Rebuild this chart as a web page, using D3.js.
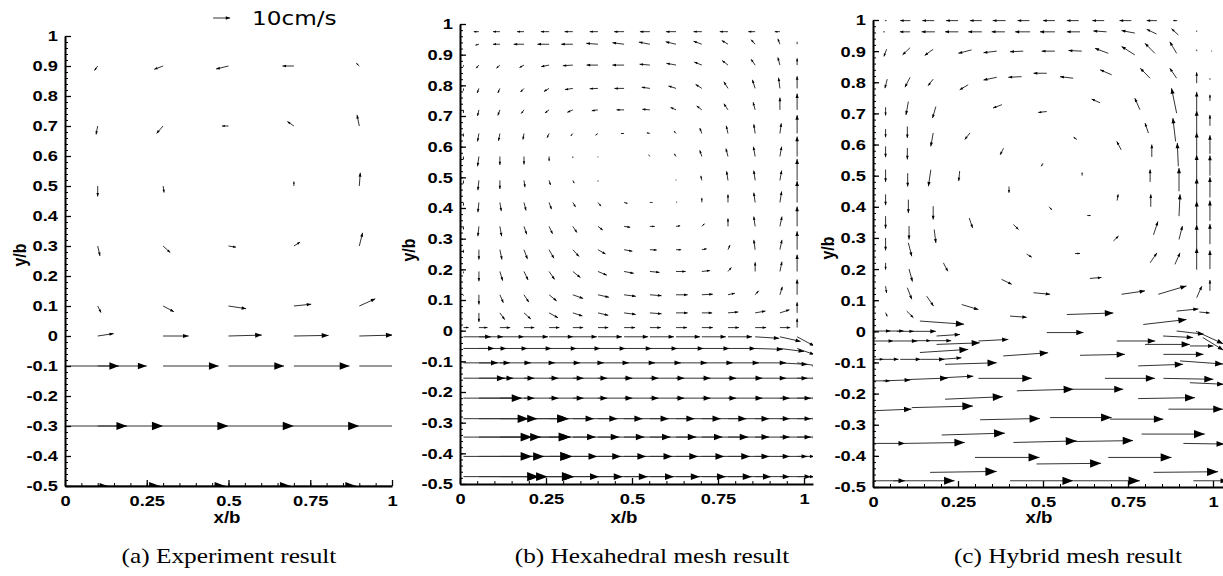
<!DOCTYPE html>
<meta charset="utf-8">
<style>
  body { margin: 0; background: #fff; }
  .ax-title { font: bold 16px "Liberation Sans", Arial, sans-serif; fill: #000; }
  .caption { font: 22px "Liberation Serif", "Times New Roman", serif; fill: #000; }
  .legend-lbl { font: 19px "DejaVu Sans", sans-serif; fill: #000; }
</style>
<script src="https://d3js.org/d3.v7.min.js"></script>
<div id="chart"></div>
<script>
  // vector components are in hundredths of b (legend arrow 5.2 = 10 cm/s)

  // (a) experiment: regular PIV grid
  var aCols = [0, 0.1, 0.3, 0.5, 0.7, 0.9];
  var aRows = [0.9, 0.7, 0.5, 0.3, 0.1, 0, -0.1, -0.3, -0.5];
  var aU = [
    [0, -1, -2.7, -3.8, -3.5, -0.9],
    [0, -0.5, -2, -2, -2, -0.7],
    [0, 0, 0.3, 0.2, 0, 0.3],
    [0, 0.7, 2.2, 2.3, 1.9, 1],
    [0, 1, 3.3, 5.4, 5.3, 4.9],
    [0, 4.9, 7.8, 10.2, 10.6, 10.2],
    [16.5, 15, 17, 17, 17, 17],
    [19, 20, 20, 20, 20, 20],
    [13, 19, 19, 19, 19, 19]
  ];
  var aV = [
    [0, -1.5, -1.1, -1, 0, 0.9],
    [0, -2.8, -2.5, 0, 1.5, 3.7],
    [0, -3.5, -2.2, 0, 1.5, 4.4],
    [0, -3.3, -2.2, -0.4, 1.3, 4.4],
    [0, -2.2, -1.9, -0.9, 0.6, 2.4],
    [0, 0.8, 0, 0.3, 0.2, 0.3],
    [0, 0, 0, 0, 0, 0],
    [0, 0, 0, 0, 0, 0],
    [0, 0, 0, 0, 0, 0]
  ];
  var legendLen = 5.2;
  var legendText = "10cm/s";

  // (b) hexahedral mesh: structured columns, cavity rows and channel rows
  var bCols = [0.01, 0.055, 0.116, 0.186, 0.259, 0.328, 0.401, 0.477, 0.552, 0.628, 0.703, 0.779, 0.858, 0.93, 0.98];
  var bRowsTop = [0.975, 0.934, 0.866, 0.79, 0.72, 0.643, 0.568, 0.49, 0.418, 0.34, 0.264, 0.193, 0.117, 0.058, 0.01];
  var bU = [
    [0, -1.5, -2, -2, -2.4, -2.4, -2.4, -2.9, -2.9, -2.9, -2.4, -2.4, -2, -1.5, 0],
    [0, -1, -2, -3, -3.4, -3.4, -3.4, -3.4, -3.2, -3, -2.4, -1.8, -1.2, -0.6, 0],
    [0, -0.8, -1, -1.3, -2.3, -2.9, -3.3, -3.4, -3, -2.8, -2.2, -1.7, -1.2, -0.6, 0],
    [0, -0.5, -0.6, -1, -1.5, -2.3, -2.4, -2.8, -2.4, -2.2, -1.8, -1.2, -0.8, -0.4, 0],
    [0, -0.4, -0.6, -0.8, -1.2, -1.6, -1.8, -2.2, -2.2, -1.6, -1.5, -1.2, -0.6, 0, 0],
    [0, -0.4, -0.4, -0.3, -0.6, -0.6, -0.7, -0.9, -0.9, -0.6, -0.6, -0.5, -0.4, 0.4, 0],
    [0, -0.4, 0, 0, 0, 0, 0, 0, -0.4, -0.5, -0.6, -0.6, -0.5, 0.5, 0],
    [0, -0.3, 0, 0.3, 0.4, 0.4, 0, 0, 0, 0, -0.3, -0.4, -0.4, 0.5, 0],
    [0, -0.3, 0.4, 0.6, 0.7, 0.8, 0.9, 1, 0.8, 0.3, 0, 0, -0.4, 0.5, 0],
    [0, -0.3, 0.5, 0.8, 1, 1.2, 1.4, 1.8, 1.4, 1.2, 0.8, 0, -0.4, 0.6, 0],
    [0, 0, 0.6, 1, 1.4, 1.8, 2.2, 2.4, 2, 1.5, 1.4, 0.6, -0.4, 0.6, 0],
    [0, 0, 0.8, 1.2, 1.6, 2.2, 2.6, 2.8, 2.8, 2.8, 2.4, 1, 0, 0.6, 0],
    [0, 0, 1, 1.4, 2.2, 3, 3.2, 3.4, 3.4, 3.4, 3.2, 2, 1, 0.7, 0],
    [0, 0, 1.4, 2, 2.6, 2.8, 3, 3.4, 3.4, 3.4, 3, 3, 3, 2.8, 0],
    [1.5, 2.5, 3, 3, 3, 3, 3, 3.2, 3.2, 3.2, 3.2, 3.2, 3.2, 3, 0]
  ];
  var bV = [
    [0, 0, 0, 0, 0, 0, 0, 0, 0, 0, 0, 0, 0, 0, 0],
    [0, -0.3, 0, 0, 0, 0, 0.3, 0.5, 0.7, 0.8, 1, 1.2, 1.5, 1.8, 0.8],
    [-0.5, -1, -1, -0.8, -0.5, -0.2, 0, 0, 0.3, 0.6, 1, 1.5, 1.9, 2.5, 2.2],
    [-0.8, -1.5, -1.5, -1.2, -1, -0.4, -0.1, 0, 0.4, 0.8, 1.3, 2.2, 2.8, 3.5, 4],
    [-1, -2, -1.8, -1.2, -1, -0.8, -0.3, 0, 0.2, 0.8, 1.3, 2, 2.5, 4, 5.3],
    [-1, -2.6, -2.4, -2, -1.4, -0.8, -0.6, 0, 0.2, 0.8, 1.8, 2.5, 3, 3.3, 6],
    [-1, -3.2, -2.8, -2.6, -1.5, -0.5, -0.3, -0.2, 0.6, 0.9, 2, 2.6, 3.2, 3.2, 6.5],
    [-1, -3.2, -2.8, -2.2, -1.5, -0.9, -0.4, -0.2, 0.2, 0.3, 1.5, 3, 3.2, 3.2, 7],
    [-1, -3.2, -2.8, -2.6, -2.2, -1.5, -1.2, -0.3, 0, 0.2, 1.5, 2.6, 3.2, 3.6, 7],
    [-1, -3.2, -3.2, -2.6, -2.4, -2, -1.2, -0.3, 0, 0.2, 0.9, 2.6, 3.2, 3.2, 6.5],
    [-1, -3.2, -3.2, -3, -2.8, -2.2, -1.4, -0.5, -0.1, 0, 0.3, 1.5, 3.2, 3.2, 6],
    [-0.6, -3.2, -3, -2.8, -2.6, -2, -1.2, -0.6, -0.3, 0, 0.3, 1.3, 3, 3.2, 5.5],
    [-0.3, -3.2, -2.6, -2.4, -2, -1.2, -0.8, -0.5, -0.3, 0, 0.2, 0.5, 1.3, 2.6, 5],
    [0, -3, -2.2, -2, -1.6, -1, -0.8, -0.5, -0.3, 0, 0, 0.3, 0.6, 1, 3.5],
    [0, 0, 0, 0, 0, 0, 0, 0, 0, 0, 0, 0, 0, 0, 3]
  ];
  var bRowsLow = [-0.02, -0.058, -0.105, -0.155, -0.22, -0.287, -0.347, -0.41, -0.476];
  var bULow = [
    [8, 7, 7, 7, 7, 7, 7, 7, 7, 7, 7, 7, 7, 6, 5],
    [9, 8, 8, 8, 8, 8, 8, 8, 8, 8, 8, 8, 8, 7, 5],
    [10, 9, 9, 9, 9, 9, 9, 9, 9, 9, 9, 9, 9, 8, 6],
    [12, 10, 10, 10, 10, 10, 10, 10, 10, 10, 10, 10, 9, 8, 6],
    [17, 12, 10, 10, 10, 10, 10, 10, 10, 10, 10, 10, 10, 9, 6],
    [19, 17, 20, 13, 13, 13, 13, 13, 13, 13, 13, 12, 10, 9, 6],
    [20, 18, 20.5, 13.5, 13.5, 13.5, 13.5, 13.5, 13.5, 13.5, 13.5, 12, 10, 9, 6],
    [20, 19, 21, 14, 14, 14, 14, 14, 14, 14, 14, 12, 10, 8, 5],
    [22, 20, 21.5, 14.5, 14.5, 14.5, 14.5, 14.5, 14.5, 14.5, 14.5, 12.5, 10, 9, 5]
  ];
  var bVLow = [
    [0, 0, 0, 0, 0, 0, 0, 0, 0, 0, 0, 0, -0.5, -1.5, -3],
    [0, 0, 0, 0, 0, 0, 0, 0, 0, 0, 0, 0, -0.3, -1, -2],
    [0, 0, 0, 0, 0, 0, 0, 0, 0, 0, 0, 0, 0, -0.5, -1],
    [0, 0, 0, 0, 0, 0, 0, 0, 0, 0, 0, 0, 0, 0, 0],
    [0, 0, 0, 0, 0, 0, 0, 0, 0, 0, 0, 0, 0, 0, 0],
    [0, 0, 0, 0, 0, 0, 0, 0, 0, 0, 0, 0, 0, 0, 0],
    [0, 0, 0, 0, 0, 0, 0, 0, 0, 0, 0, 0, 0, 0, 0],
    [0, 0, 0, 0, 0, 0, 0, 0, 0, 0, 0, 0, 0, 0, 0],
    [0, 0, 0, 0, 0, 0, 0, 0, 0, 0, 0, 0, 0, 0, 0]
  ];

  // (c) hybrid mesh: scattered nodes [x, y, u, v]
  var cVectors = [
    [0.04, 0.998, -0.5, 0], [0.11, 0.998, -3, 0], [0.18, 0.998, -3.5, 0], [0.25, 0.998, -3.5, 0],
    [0.32, 0.998, -3.5, 0], [0.39, 0.998, -3.8, 0], [0.46, 0.998, -3.5, 0], [0.535, 0.998, -3.5, 0],
    [0.605, 0.998, -3.5, 0], [0.68, 0.998, -3.5, 0], [0.76, 0.998, -3.5, 0], [0.835, 0.998, -3, 0],
    [0.895, 0.998, -1.2, 0],
    [0.035, 0.962, -0.5, 0], [0.109, 0.962, -3, 0], [0.182, 0.962, -3.9, 0], [0.251, 0.962, -3.9, 0],
    [0.32, 0.962, -4, 0], [0.388, 0.962, -3.9, 0], [0.462, 0.962, -4.4, 0], [0.535, 0.962, -4.4, 0],
    [0.609, 0.962, -3.9, 0], [0.687, 0.962, -3.9, 0.3], [0.77, 0.958, -3.9, 0.8], [0.834, 0.955, -2.9, 1.5],
    [0.898, 0.952, -2, 2], [0.952, 0.962, 0, 0.4],
    [0.04, 0.906, -0.8, -2.3], [0.109, 0.911, -2.2, -2.3], [0.177, 0.906, -2.5, -2], [0.29, 0.904, -3.9, -1.1],
    [0.364, 0.9, -3.9, -0.5], [0.442, 0.9, -3.9, -0.2], [0.535, 0.9, -3.9, 0], [0.614, 0.9, -3.9, 0.2],
    [0.692, 0.893, -3.9, 1.6], [0.77, 0.888, -3.9, 2.7], [0.829, 0.893, -2.9, 3.2], [0.893, 0.893, -2, 3.7],
    [0.952, 0.9, 0, 0.5], [0.996, 0.899, 0, 0.3],
    [0.042, 0.81, -0.7, -2.9], [0.109, 0.816, -1.5, -3.2], [0.177, 0.81, -1.5, -2.1], [0.28, 0.792, -2.5, -1.6],
    [0.364, 0.816, -3.9, -0.9], [0.437, 0.818, -3.9, -0.2], [0.511, 0.829, -3.9, 0], [0.589, 0.813, -3.9, 0.5],
    [0.702, 0.824, -3.4, 1.6], [0.815, 0.813, -2.9, 3.2], [0.893, 0.813, -2, 3.2], [0.952, 0.797, 0, 3.5],
    [0.991, 0.808, 0, 0.5],
    [0.037, 0.72, 0, -2.7], [0.104, 0.738, -0.7, -4.3], [0.185, 0.722, -1, -3.7], [0.379, 0.728, -2.6, -1.1],
    [0.511, 0.706, -2.5, -0.3], [0.668, 0.734, -2.5, 1.2], [0.785, 0.712, -1.5, 3.7], [0.893, 0.701, -1.5, 8],
    [0.952, 0.709, 0, 6], [0.991, 0.74, 0, 2],
    [0.037, 0.65, 0, -2.7], [0.101, 0.658, 0, -3.7], [0.177, 0.637, -0.7, -4.3], [0.285, 0.637, -1.5, -2.1],
    [0.6, 0.616, -1, 0.7], [0.73, 0.583, -1.3, 2.7], [0.81, 0.637, -1, 3.2], [0.89, 0.61, -0.8, 7.5],
    [0.952, 0.637, 0, 7.2], [0.991, 0.66, 0, 3.5],
    [0.037, 0.594, 0, -3.5], [0.101, 0.589, 0, -3.7], [0.384, 0.588, -1, -2.1], [0.5, 0.54, -0.5, -1],
    [0.82, 0.56, 0, 4], [0.898, 0.53, -0.3, 7.5], [0.952, 0.567, 0, 7.2], [0.991, 0.57, 0, 6],
    [0.037, 0.52, 0, -4], [0.102, 0.508, 0, -4.3], [0.17, 0.519, -0.7, -5.3], [0.255, 0.515, -0.3, -3.2],
    [0.615, 0.5, 0, 1], [0.815, 0.48, 0, 4], [0.952, 0.492, 0, 7.5], [0.991, 0.5, 0, 6.5],
    [0.037, 0.44, 0, -3.5], [0.104, 0.423, 0, -4.3], [0.177, 0.402, 0, -4.3], [0.4, 0.465, 0, -2],
    [0.518, 0.4, 0.8, -1], [0.718, 0.42, 0.3, 2], [0.817, 0.4, 0, 4], [0.9, 0.45, 0, 7.5],
    [0.952, 0.417, 0, 7.5], [0.991, 0.43, 0, 6.5],
    [0.037, 0.37, 0, -4], [0.106, 0.338, 0, -4.3], [0.18, 0.327, 0.5, -4.3], [0.283, 0.364, 1, -3.2],
    [0.413, 0.343, 1.5, -1.6], [0.63, 0.372, 1, 0], [0.825, 0.31, 1.3, 4.3], [0.9, 0.37, 0.3, 7],
    [0.952, 0.343, 0, 7.5], [0.991, 0.355, 0, 6.5],
    [0.037, 0.3, 0, -4], [0.104, 0.284, 1, -4.3], [0.452, 0.248, 1.5, -1], [0.594, 0.25, 1.5, 0],
    [0.707, 0.29, 1.5, 1.6], [0.9, 0.295, 1, 4.3], [0.952, 0.268, 0, 7.5], [0.991, 0.28, 0, 6.5],
    [0.037, 0.22, 0, -2.2], [0.106, 0.2, 1, -4], [0.207, 0.22, 1.3, -2.7], [0.378, 0.167, 3, -1.6],
    [0.638, 0.17, 3.4, 0.3], [0.815, 0.22, 2, 3.2], [0.888, 0.215, 1.5, 3.7], [0.952, 0.198, 0, 7],
    [0.991, 0.2, 0, 6],
    [0.037, 0.145, 0.3, -2.2], [0.101, 0.14, 1.3, -3.7], [0.158, 0.113, 2, -3.2], [0.472, 0.124, 4.9, -0.5],
    [0.731, 0.119, 6.9, 1.1], [0.839, 0.119, 8.3, 2.7], [0.952, 0.108, 1.5, 3.7], [0.991, 0.13, 0, 3.5],
    [0.037, 0.06, 0.5, -1.2], [0.099, 0.065, 2, -2.1], [0.261, 0.086, 4.9, -1.6],
    [0.138, 0.033, 13, -1], [0.403, 0.049, 4.9, -0.4], [0.57, 0.054, 13.7, 0.5], [0.893, 0.065, 6.4, 0.7],
    [0.96, 0.062, 3, -0.3], [0.795, 0.022, 12.7, 1.6],
    [0.001, 0.001, 5, 0], [0.04, 0.001, 5, 0], [0.07, 0, 5, 0], [0.11, 0, 7.5, 0],
    [0.187, -0.015, 6.9, 0.5], [0.511, -0.004, 10.8, 0],
    [0.893, 0.001, 8, -1], [0.95, 0, 8, -4], [0.97, -0.02, 6, -4],
    [0, -0.031, 6, 0], [0.06, -0.031, 7, 0], [0.12, -0.03, 5, 0], [0.17, -0.03, 6, 0],
    [0.187, -0.042, 12.7, 0.5], [0.31, -0.031, 8.8, 0.5], [0.717, -0.031, 11.3, 0], [0.8, -0.042, 13.2, 0],
    [0.853, -0.015, 8.8, -0.5], [0.932, -0.047, 6.9, 0],
    [0.138, -0.068, 14.2, 1], [0.383, -0.079, 13.2, 1], [0.609, -0.077, 13.2, 0.3], [0.854, -0.074, 11.8, 0],
    [0, -0.09, 3, 0], [0.02, -0.09, 5.5, 0], [0.08, -0.09, 6, 0], [0.14, -0.09, 7, 0], [0.2, -0.09, 6, 0.5],
    [0.212, -0.106, 15.2, 0.5], [0.78, -0.111, 13.2, 0.5], [0.903, -0.095, 12.7, -1],
    [0, -0.159, 5, 0], [0.03, -0.159, 8, 0.3], [0.1, -0.155, 12, 0.5],
    [0.207, -0.149, 8.8, 0.5], [0.31, -0.151, 15.7, 0], [0.682, -0.151, 14.7, 0], [0.854, -0.151, 14.7, -0.3],
    [0.932, -0.165, 10, -0.5],
    [0.423, -0.191, 16.7, 0.5], [0.589, -0.186, 14.7, 0],
    [0.212, -0.218, 17, 0.8], [0.78, -0.216, 16.7, 0.3],
    [0, -0.255, 11.3, 0.5], [0.114, -0.245, 18, 0.5], [0.869, -0.25, 16, 0],
    [0.315, -0.284, 17.6, 0.4], [0.521, -0.277, 18.1, 0], [0.697, -0.282, 15.7, 0],
    [0.202, -0.333, 18.6, 0.6], [0.79, -0.33, 18.6, 0],
    [0, -0.36, 9.4, 0], [0.094, -0.36, 17.6, 0.3], [0.413, -0.357, 18.6, 0.5], [0.589, -0.354, 17.6, 0.3],
    [0.913, -0.36, 12, -0.2],
    [0.3, -0.405, 19, 0], [0.692, -0.405, 18.6, 0], [0.481, -0.426, 19, 0.2],
    [0.168, -0.453, 19.6, 0.3], [0.825, -0.453, 19, 0.2],
    [0, -0.48, 9.4, 0], [0.06, -0.48, 18, 0], [0.403, -0.48, 18.6, 0], [0.589, -0.48, 19.6, 0],
    [0.942, -0.48, 10, 0]
  ];

  var yMajorTicks = [-0.5, -0.4, -0.3, -0.2, -0.1, 0, 0.1, 0.2, 0.3, 0.4, 0.5, 0.6, 0.7, 0.8, 0.9, 1];
  var xMajorTicks = [0, 0.25, 0.5, 0.75, 1];

  // flatten grids into [x, y, u, v]
  function gridVectors(cols, rows, U, V) {
    var out = [];
    rows.forEach(function(yv, i) {
      cols.forEach(function(xv, j) { out.push([xv, yv, U[i][j], V[i][j]]); });
    });
    return out;
  }
  var aVectors = gridVectors(aCols, aRows, aU, aV);
  var bVectors = gridVectors(bCols, bRowsTop, bU, bV).concat(gridVectors(bCols, bRowsLow, bULow, bVLow));

  var width = 1223, height = 576;
  var svg = d3.select("#chart").append("svg")
    .attr("width", width).attr("height", height);

  var panels = [
    {id: "a", x0: 65, x1: 392, xMax: 1, yTop: 36, yBot: 486, vectors: aVectors,
     caption: "(a) Experiment result", capX: 229, xTitleX: 227, yTitleX: 19, yTitleY: 255},
    {id: "b", x0: 460, x1: 804, xMax: 1.026, yTop: 24, yBot: 484, vectors: bVectors,
     caption: "(b) Hexahedral mesh result", capX: 652, xTitleX: 624, yTitleX: 408, yTitleY: 250},
    {id: "c", x0: 873, x1: 1213, xMax: 1.03, yTop: 20, yBot: 487, vectors: cVectors,
     caption: "(c) Hybrid mesh result", capX: 1068, xTitleX: 1039, yTitleX: 827, yTitleY: 248}
  ];

  function headPath(s) {
    var hl = Math.min(0.5 * s.len, 2 + 0.14 * s.len, 12), hw = hl * 0.38;
    var ux = (s.x2 - s.x1) / s.len, uy = (s.y2 - s.y1) / s.len;
    var bx = s.x2 - ux * hl, by = s.y2 - uy * hl;
    return "M" + s.x2 + "," + s.y2 +
      "L" + (bx - uy * hw) + "," + (by + ux * hw) +
      "L" + (bx + uy * hw) + "," + (by - ux * hw) + "Z";
  }

  function styleTickText(sel) {
    sel.attr("font-size", null).attr("fill", "#000")
      .style("font-family", "'Liberation Sans', Arial, sans-serif")
      .style("font-size", "15.5px")
      .style("font-weight", "bold")
      .attr("transform", "scale(1.18,1)");
  }

  panels.forEach(function(p) {
    var x = d3.scaleLinear().domain([0, 1]).range([p.x0, p.x1]);
    var y = d3.scaleLinear().domain([-0.5, 1]).range([p.yBot, p.yTop]);
    var g = svg.append("g");

    svg.append("clipPath").attr("id", "clip-" + p.id)
      .append("rect")
        .attr("x", x(0)).attr("y", y(1) - 4)
        .attr("width", x(p.xMax) - x(0)).attr("height", y(-0.5) - y(1) + 4);

    var segs = p.vectors.map(function(d) {
      var s = {x1: x(d[0]), y1: y(d[1]), x2: x(d[0] + d[2] * 0.01), y2: y(d[1] + d[3] * 0.01)};
      s.len = Math.hypot(s.x2 - s.x1, s.y2 - s.y1);
      return s;
    }).filter(function(s) { return s.len > 0.8; });

    var vg = g.append("g").attr("clip-path", "url(#clip-" + p.id + ")");
    vg.selectAll("line").data(segs).join("line")
      .attr("x1", function(s) { return s.x1; }).attr("y1", function(s) { return s.y1; })
      .attr("x2", function(s) { return s.x2; }).attr("y2", function(s) { return s.y2; })
      .attr("stroke", "#333").attr("stroke-width", 1);
    vg.selectAll("path").data(segs.filter(function(s) { return s.len > 3; })).join("path")
      .attr("d", headPath).attr("fill", "#000");

    // axes: ticks point inward
    var xFull = d3.scaleLinear().domain([0, p.xMax]).range([x(0), x(p.xMax)]);
    var minorY = d3.range(-25, 51).map(function(k) { return k / 50; });
    var minorX = d3.range(0, Math.floor(p.xMax * 20 + 1e-6) + 1).map(function(k) { return k / 20; });

    g.append("g").attr("transform", "translate(" + x(0) + ",0)")
      .call(d3.axisLeft(y).tickValues(minorY).tickSize(-3).tickSizeOuter(0).tickFormat(""))
      .call(function(s) { s.select(".domain").remove(); });
    g.append("g").attr("transform", "translate(0," + y(-0.5) + ")")
      .call(d3.axisBottom(xFull).tickValues(minorX).tickSize(-3).tickSizeOuter(0).tickFormat(""))
      .call(function(s) { s.select(".domain").remove(); });

    var yAx = g.append("g").attr("transform", "translate(" + x(0) + ",0)")
      .call(d3.axisLeft(y).tickValues(yMajorTicks).tickSize(-6).tickSizeOuter(0).tickPadding(6)
        .tickFormat(function(d) { return String(Math.round(d * 10) / 10); }));
    var xAx = g.append("g").attr("transform", "translate(0," + y(-0.5) + ")")
      .call(d3.axisBottom(xFull).tickValues(xMajorTicks).tickSize(-6).tickSizeOuter(0).tickPadding(9)
        .tickFormat(function(d) { return String(d); }));

    [yAx, xAx].forEach(function(ax) {
      ax.attr("font-size", null).attr("font-family", null);
      ax.select(".domain").attr("stroke-width", 2);
      ax.selectAll(".tick line").attr("stroke-width", 1.3);
      styleTickText(ax.selectAll("text"));
    });

    // titles
    g.append("text").attr("class", "ax-title").attr("text-anchor", "middle")
      .attr("transform", "translate(" + p.xTitleX + ",523) scale(1.17,1)").text("x/b");
    g.append("text").attr("class", "ax-title").attr("text-anchor", "middle").attr("dy", "0.36em")
      .attr("transform", "translate(" + p.yTitleX + "," + p.yTitleY + ") rotate(-90) scale(1,1.17)").text("y/b");
    g.append("text").attr("class", "caption").attr("text-anchor", "middle")
      .attr("transform", "translate(" + p.capX + ",563) scale(1.15,1)").text(p.caption);

    if (p.id === "a") {
      var lx = 0.453, ly = 1.06;
      var ls = {x1: x(lx), y1: y(ly), x2: x(lx + legendLen * 0.01), y2: y(ly)};
      ls.len = ls.x2 - ls.x1;
      g.append("line").attr("x1", ls.x1).attr("y1", ls.y1).attr("x2", ls.x2).attr("y2", ls.y2)
        .attr("stroke", "#333").attr("stroke-width", 1);
      g.append("path").attr("d", headPath(ls)).attr("fill", "#000");
      g.append("text").attr("class", "legend-lbl")
        .attr("transform", "translate(252,25) scale(1.22,1)").text(legendText);
    }
  });
</script>
